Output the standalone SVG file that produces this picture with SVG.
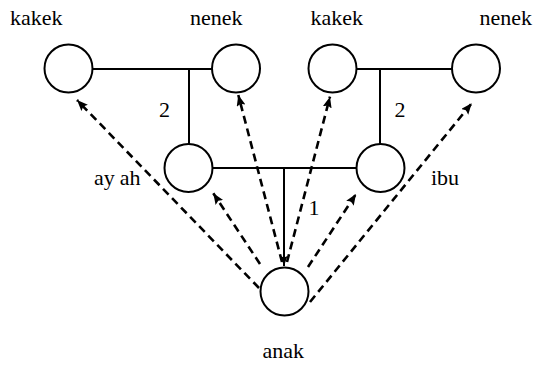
<svg xmlns="http://www.w3.org/2000/svg" width="537" height="366" viewBox="0 0 537 366">
  <style>
    .person { fill: #ffffff; stroke: #000000; stroke-width: 2; }
    .tie { fill: none; stroke: #000000; stroke-width: 2; }
    .ref { fill: none; stroke: #000000; stroke-width: 2.6; stroke-dasharray: 8 5; }
    .lbl { font-family: "Liberation Serif", "Tinos", "Times New Roman", "DejaVu Serif", serif; font-size: 22px; fill: #000000; }
  </style>
  <defs>
    <marker id="head" markerUnits="userSpaceOnUse" markerWidth="12" markerHeight="10" refX="11" refY="4.5" orient="auto">
      <path d="M0,0 L11,4.5 L0,9 L2,4.5 z" fill="#000000"/>
    </marker>
    <marker id="headSolid" markerUnits="userSpaceOnUse" markerWidth="12" markerHeight="8" refX="10" refY="3.5" orient="auto">
      <path d="M0,0 L10,3.5 L0,7 L1.5,3.5 z" fill="#000000"/>
    </marker>
  </defs>

  <!-- marriage and descent lines, plus pointers from the child -->
  <g id="connectors">
    <line class="tie" x1="92.5" y1="69" x2="212" y2="69"/>
    <line class="tie" x1="189" y1="69" x2="189" y2="144"/>
    <line class="tie" x1="356.5" y1="69" x2="452" y2="69"/>
    <line class="tie" x1="380" y1="69" x2="380" y2="144"/>
    <line class="tie" x1="212.5" y1="168" x2="356.5" y2="168"/>
    <line class="tie" x1="284" y1="168" x2="284" y2="266" marker-end="url(#headSolid)"/>

    <line class="ref" x1="259" y1="288" x2="77" y2="100" marker-end="url(#head)"/>
    <line class="ref" x1="260" y1="264" x2="213.3" y2="193.3" marker-end="url(#head)"/>
    <line class="ref" x1="282" y1="262" x2="238.3" y2="95" marker-end="url(#head)"/>
    <line class="ref" x1="287" y1="262" x2="330" y2="96.7" marker-end="url(#head)"/>
    <line class="ref" x1="308" y1="267" x2="356" y2="194" marker-end="url(#head)"/>
    <line class="ref" x1="310" y1="302" x2="471.7" y2="103.3" marker-end="url(#head)"/>

    <text class="lbl" x="159" y="116.7">2</text>
    <text class="lbl" x="394.5" y="116.7">2</text>
    <text class="lbl" x="308.5" y="215">1</text>
  </g>

  <g id="kakek-ayah">
    <circle class="person" cx="68.5" cy="68.5" r="24"/>
    <text class="lbl" x="10" y="25">kakek</text>
  </g>
  <g id="nenek-ayah">
    <circle class="person" cx="236" cy="68.5" r="24"/>
    <text class="lbl" x="190" y="25">nenek</text>
  </g>
  <g id="kakek-ibu">
    <circle class="person" cx="332.5" cy="68.5" r="24"/>
    <text class="lbl" x="310.5" y="25">kakek</text>
  </g>
  <g id="nenek-ibu">
    <circle class="person" cx="476" cy="68.5" r="24"/>
    <text class="lbl" x="479.5" y="25">nenek</text>
  </g>
  <g id="ayah">
    <circle class="person" cx="188.5" cy="168" r="24"/>
    <text class="lbl" x="94" y="184.5">ay<tspan dx="5">ah</tspan></text>
  </g>
  <g id="ibu">
    <circle class="person" cx="380.5" cy="168" r="24"/>
    <text class="lbl" x="431" y="184.5">ibu</text>
  </g>
  <g id="anak">
    <circle class="person" cx="284.5" cy="291.5" r="24"/>
    <text class="lbl" x="262.5" y="357.5">anak</text>
  </g>
</svg>
